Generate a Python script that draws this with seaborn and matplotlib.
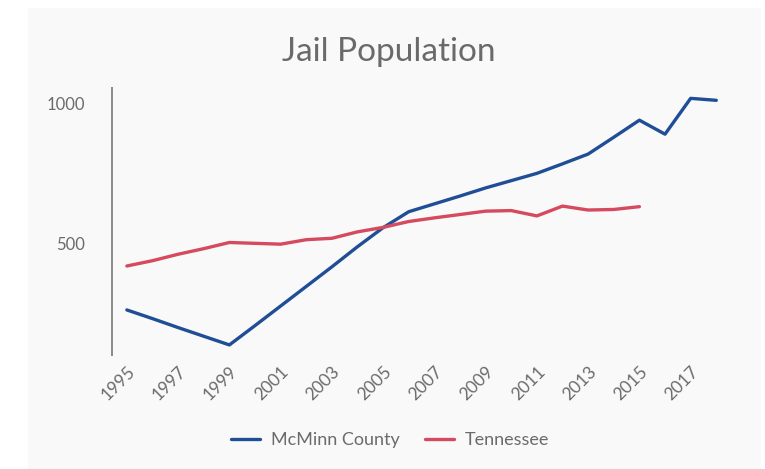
import pandas as pd
import numpy as np
import matplotlib
matplotlib.use("Agg")
import matplotlib.pyplot as plt
import seaborn as sns
from matplotlib.patches import Rectangle

# datos
years_mcminn = list(range(1995, 2019))
mcminn = [261, 230, 198, 167, 136, 205, 275, 345, 415, 487, 555, 612,
          640, 668, 697, 723, 749, 783, 818, 878, 939, 889, 1017, 1010]
years_tn = list(range(1995, 2016))
tennessee = [418, 437, 460, 480, 502, 499, 496, 512, 517, 540, 556, 577,
             590, 602, 614, 616, 597, 632, 618, 620, 630]
xticks = list(range(1995, 2018, 2))
yticks = [500, 1000]

df = pd.concat([
    pd.DataFrame({"Year": years_mcminn, "Population": mcminn, "Area": "McMinn County"}),
    pd.DataFrame({"Year": years_tn, "Population": tennessee, "Area": "Tennessee"}),
])

sns.set_style("white")
plt.rcParams['font.family'] = ['Lato', 'DejaVu Sans']

fig = plt.figure(figsize=(7.65, 4.69), dpi=100)
fig.patch.set_facecolor("white")
# panel gris de fondo
fig.patches.append(Rectangle((28 / 765, 0), (761 - 28) / 765, 1 - 8 / 469,
                             transform=fig.transFigure, facecolor="#f9f9f9",
                             edgecolor="none", zorder=-5))

ax = fig.add_axes([112 / 765, 1 - 355 / 469, 0.81, (355 - 88) / 469])
ax.set_facecolor("none")
ax.set_zorder(2)

sns.lineplot(data=df, x="Year", y="Population", hue="Area",
             palette={"McMinn County": "#1f4e96", "Tennessee": "#d54a5e"},
             linewidth=2.4, ax=ax, legend=True)

ax.set_xlim(1994.42, 2018.6)
ax.set_ylim(100, 1054)
ax.set_xticks(xticks)
ax.set_yticks(yticks)
ax.set_xticklabels([str(x) for x in xticks], rotation=45, ha="right",
                   rotation_mode="anchor", color="#6b6b6b", fontsize=12.5)
ax.set_yticklabels([str(y) for y in yticks], color="#6b6b6b", fontsize=12)
ax.tick_params(axis="x", length=0, pad=6)
ax.tick_params(axis="y", length=0, pad=19.5)
ax.set_xlabel("")
ax.set_ylabel("")

for s in ["top", "right", "bottom"]:
    ax.spines[s].set_visible(False)
ax.spines["left"].set_color("#8a8a8a")
ax.spines["left"].set_linewidth(1.4)

fig.text(389 / 765, 1 - 52 / 469, "Jail Population", ha="center", va="center",
         fontsize=24, color="#6a6a6a")

leg = ax.legend(loc="center", bbox_to_anchor=(390 / 765, 1 - 440 / 469),
                bbox_transform=fig.transFigure, ncol=2, frameon=False,
                fontsize=13, handlelength=1.6, handletextpad=0.6,
                columnspacing=1.4)
for t in leg.get_texts():
    t.set_color("#6b6b6b")

fig.savefig("out.png", dpi=100, facecolor=fig.get_facecolor())
